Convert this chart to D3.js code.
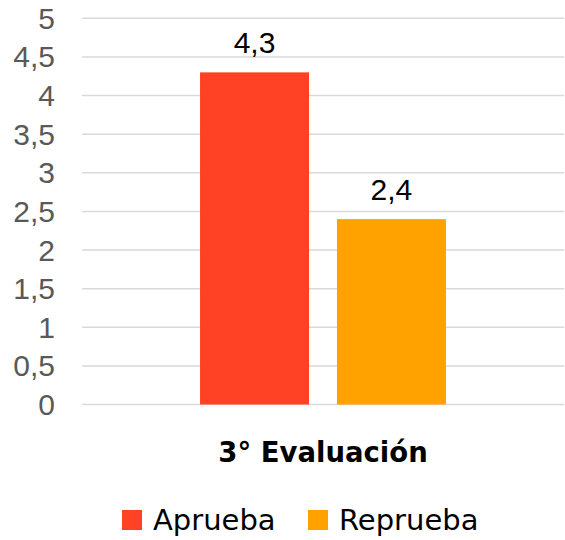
<!DOCTYPE html>
<html>
<head>
<meta charset="utf-8">
<script src="https://cdn.jsdelivr.net/npm/d3@7"></script>
<style>
  body { margin: 0; background: #fff; }
  .tick-label { font-family: "Liberation Sans", Arial, sans-serif; font-size: 30px; fill: #595959; }
  .value-label { font-family: "Liberation Sans", Arial, sans-serif; font-size: 30px; fill: #000; }
  .cat-label { font-family: "DejaVu Sans", sans-serif; font-weight: bold; font-size: 27.5px; fill: #000; }
  .legend-text { font-family: "DejaVu Sans", sans-serif; font-size: 29px; fill: #000; }
</style>
</head>
<body>
<div id="chart"></div>
<script>
// data
let categories = ['3° Evaluación'];
let seriesNames = ['Aprueba', 'Reprueba'];
let aprueba = [4.3];
let reprueba = [2.4];
let yTicks = [0, 0.5, 1, 1.5, 2, 2.5, 3, 3.5, 4, 4.5, 5];
let colors = ['#ff4125', '#ffa200'];

let width = 565, height = 540;
let svg = d3.select('#chart').append('svg')
    .attr('width', width)
    .attr('height', height);

let x0 = d3.scaleBand()
    .domain(categories)
    .range([82, 564])
    .paddingInner(0)
    .paddingOuter(0.48);

let x1 = d3.scaleBand()
    .domain(seriesNames)
    .range([0, x0.bandwidth()])
    .paddingInner(0.204)
    .paddingOuter(0);

let y = d3.scaleLinear()
    .domain([0, 5])
    .range([404.5, 18.3]);

let fmt = (v) => String(v).replace('.', ',');

// gridlines
let grid = svg.append('g');
grid.selectAll('line')
    .data(yTicks)
    .enter()
    .append('line')
    .attr('x1', 82)
    .attr('x2', 564)
    .attr('y1', (d) => y(d))
    .attr('y2', (d) => y(d))
    .attr('stroke', '#d9d9d9')
    .attr('stroke-width', 1.5);

// y labels
svg.append('g').selectAll('text')
    .data(yTicks)
    .enter()
    .append('text')
    .attr('class', 'tick-label')
    .attr('x', 55)
    .attr('y', (d) => y(d))
    .attr('dy', '0.35em')
    .attr('text-anchor', 'end')
    .text((d) => fmt(d));

// bars
let rows = categories.map((c, i) => ({ cat: c, values: [aprueba[i], reprueba[i]] }));

let groups = svg.selectAll('.cat')
    .data(rows)
    .enter()
    .append('g')
    .attr('class', 'cat')
    .attr('transform', (d) => 'translate(' + x0(d.cat) + ',0)');

groups.selectAll('rect')
    .data((d) => d.values.map((v, i) => ({ key: seriesNames[i], value: v, i: i })))
    .enter()
    .append('rect')
    .attr('x', (d) => x1(d.key))
    .attr('y', (d) => y(d.value))
    .attr('width', x1.bandwidth())
    .attr('height', (d) => y(0) - y(d.value))
    .attr('fill', (d) => colors[d.i]);

groups.selectAll('.value-label')
    .data((d) => d.values.map((v, i) => ({ key: seriesNames[i], value: v })))
    .enter()
    .append('text')
    .attr('class', 'value-label')
    .attr('x', (d) => x1(d.key) + x1.bandwidth() / 2)
    .attr('y', (d) => y(d.value) - 19)
    .attr('text-anchor', 'middle')
    .text((d) => fmt(d.value));

// category label
svg.append('g').selectAll('text')
    .data(categories)
    .enter()
    .append('text')
    .attr('class', 'cat-label')
    .attr('x', (d) => x0(d) + x0.bandwidth() / 2)
    .attr('y', 462)
    .attr('text-anchor', 'middle')
    .text((d) => d);

// legend
let legX = [122, 308];
let leg = svg.append('g');
seriesNames.forEach((name, i) => {
    leg.append('rect')
        .attr('x', legX[i])
        .attr('y', 510)
        .attr('width', 20)
        .attr('height', 20)
        .attr('fill', colors[i]);
    leg.append('text')
        .attr('class', 'legend-text')
        .attr('x', legX[i] + 31)
        .attr('y', 530)
        .text(name);
});
</script>
</body>
</html>
